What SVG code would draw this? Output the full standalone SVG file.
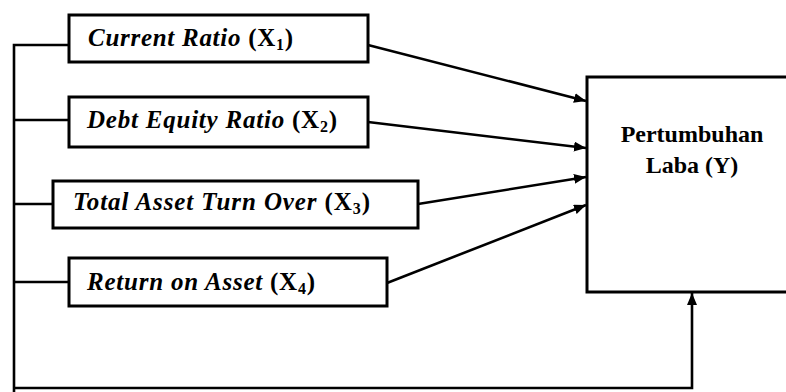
<svg xmlns="http://www.w3.org/2000/svg" width="786" height="392" viewBox="0 0 786 392">
<defs>
<style>
.box{fill:#fff;stroke:#000;stroke-width:3}
.ln{fill:none;stroke:#000;stroke-width:2.6}
text{font-family:'Liberation Serif','Times New Roman',serif;font-size:25px;font-weight:bold;fill:#000}
.it{font-style:italic}
.sub{font-size:16px}
.ylbl{font-size:24px}
</style>
<marker id="ah" viewBox="0 0 12 10" refX="12" refY="5" markerWidth="12" markerHeight="10" markerUnits="userSpaceOnUse" orient="auto">
<path d="M0,0 L12,5 L0,10 z" fill="#000"/>
</marker>
</defs>
<rect width="786" height="392" fill="#fff"/>
<g id="connectors">
<polyline class="ln" points="69,45 14,45 14,392"/>
<line class="ln" x1="14" y1="120" x2="69" y2="120"/>
<line class="ln" x1="14" y1="204" x2="53" y2="204"/>
<line class="ln" x1="14" y1="282" x2="69" y2="282"/>
<polyline class="ln" points="14,388 692,388 692,293" marker-end="url(#ah)"/>
<line class="ln" x1="368" y1="45" x2="586" y2="101" marker-end="url(#ah)"/>
<line class="ln" x1="368" y1="122" x2="586" y2="148" marker-end="url(#ah)"/>
<line class="ln" x1="418" y1="204" x2="586" y2="177" marker-end="url(#ah)"/>
<line class="ln" x1="387" y1="283" x2="586" y2="205" marker-end="url(#ah)"/>
</g>
<g id="x1">
<rect class="box" x="69" y="15" width="299" height="47"/>
<text x="88" y="46" textLength="205" lengthAdjust="spacing"><tspan class="it">Current Ratio</tspan> (X<tspan class="sub" dy="4">1</tspan><tspan dy="-4">)</tspan></text>
</g>
<g id="x2">
<rect class="box" x="69" y="97" width="299" height="50"/>
<text x="87" y="128" textLength="250" lengthAdjust="spacing"><tspan class="it">Debt Equity Ratio</tspan> (X<tspan class="sub" dy="4">2</tspan><tspan dy="-4">)</tspan></text>
</g>
<g id="x3">
<rect class="box" x="53" y="181" width="365" height="47"/>
<text x="73" y="210" textLength="297" lengthAdjust="spacing"><tspan class="it">Total Asset Turn Over</tspan> (X<tspan class="sub" dy="4">3</tspan><tspan dy="-4">)</tspan></text>
</g>
<g id="x4">
<rect class="box" x="69" y="258" width="318" height="48"/>
<text x="87" y="290" textLength="228" lengthAdjust="spacing"><tspan class="it">Return on Asset</tspan> (X<tspan class="sub" dy="4">4</tspan><tspan dy="-4">)</tspan></text>
</g>
<g id="y">
<rect class="box" x="587" y="77" width="210" height="215"/>
<text class="ylbl" x="692" y="142" text-anchor="middle">Pertumbuhan</text>
<text class="ylbl" x="692" y="173" text-anchor="middle">Laba (Y)</text>
</g>
</svg>
